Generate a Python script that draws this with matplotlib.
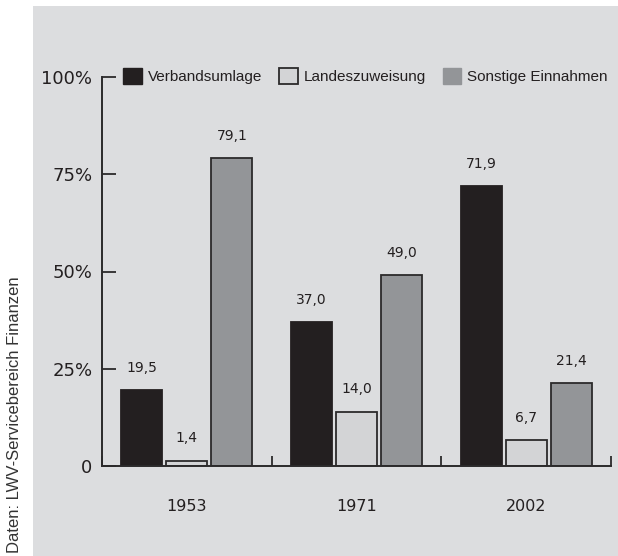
import numpy as np
import matplotlib
matplotlib.use("Agg")
import matplotlib.pyplot as plt
from matplotlib.patches import Rectangle, Patch

# data
years = ["1953", "1971", "2002"]
series = ["Verbandsumlage", "Landeszuweisung", "Sonstige Einnahmen"]
verbandsumlage = [19.5, 37.0, 71.9]
landeszuweisung = [1.4, 14.0, 6.7]
sonstige = [79.1, 49.0, 21.4]
y_ticks = [0, 25, 50, 75, 100]
y_tick_labels = ["0", "25%", "50%", "75%", "100%"]

colors = ["#231f20", "#d3d4d6", "#939598"]
edge = "#2b2a2b"
bg = "#dcdddf"
txt = "#231f20"

fig = plt.figure(figsize=(6.18, 5.56), dpi=100)
fig.patch.set_facecolor("white")
fig.patches.append(Rectangle((33 / 618, 0), 1 - 33 / 618, 550 / 556,
                             transform=fig.transFigure, facecolor=bg,
                             edgecolor="none", zorder=-5))

ax = fig.add_axes([102 / 618, 90 / 556, 509 / 618, 389 / 556])
ax.set_facecolor("none")

values = [verbandsumlage, landeszuweisung, sonstige]
x = np.arange(len(years)) + 0.5
step = 0.2655
width = 0.242
for i, (vals, c) in enumerate(zip(values, colors)):
    pos = x + (i - 1) * step
    ec = c if i == 0 else edge
    ax.bar(pos, vals, width=width, color=c, edgecolor=ec, linewidth=1.3,
           label=series[i], zorder=3)
    for p, v in zip(pos, vals):
        ax.annotate(f"{v:.1f}".replace(".", ","), (p, v), xytext=(0, 16),
                    textcoords="offset points", ha="center", va="center",
                    fontsize=10, color=txt)

ax.set_xlim(0, 3)
ax.set_ylim(0, 100)
for s in ["top", "right"]:
    ax.spines[s].set_visible(False)
for s in ["left", "bottom"]:
    ax.spines[s].set_color(edge)
    ax.spines[s].set_linewidth(1.4)
ax.spines["bottom"].set_zorder(4)

ax.set_yticks(y_ticks)
ax.set_yticklabels(y_tick_labels)
ax.tick_params(axis="y", direction="in", length=10, width=1.3, color=edge,
               pad=7, labelsize=13, labelcolor=txt)

ax.set_xticks(x)
ax.set_xticklabels(years)
ax.tick_params(axis="x", which="major", length=0, pad=24, labelsize=11.5,
               labelcolor=txt)
ax.set_xticks(np.arange(len(years) + 1), minor=True)
ax.tick_params(axis="x", which="minor", direction="in", length=7, width=1.3,
               color=edge)
for t in ax.xaxis.get_minor_ticks():
    t.tick1line.set_clip_on(False)

handles = [Patch(facecolor=colors[0], edgecolor=colors[0], linewidth=1.0),
           Patch(facecolor=colors[1], edgecolor=edge, linewidth=1.3),
           Patch(facecolor=colors[2], edgecolor=colors[2], linewidth=1.0)]
leg = ax.legend(handles, series, ncol=3, frameon=False, loc="center left",
                bbox_to_anchor=(21 / 509, 1.003), borderpad=0,
                borderaxespad=0, handlelength=1.22, handleheight=1.22,
                handletextpad=0.38, columnspacing=1.12,
                prop={"family": ["Liberation Sans", "DejaVu Sans"],
                      "size": 11})
for t in leg.get_texts():
    t.set_color(txt)

fig.text(15 / 618, 3 / 556, "Daten: LWV-Servicebereich Finanzen",
         rotation=90, ha="center", va="bottom", fontsize=12,
         family=["Liberation Sans", "DejaVu Sans"], color="#333333")

fig.savefig("out.png", dpi=100)
